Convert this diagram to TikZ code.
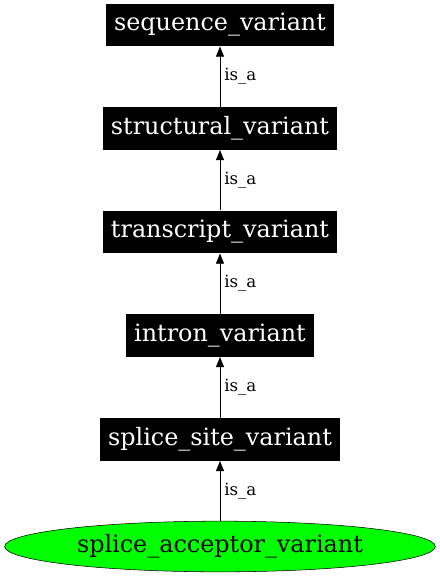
\documentclass[tikz,border=0pt]{standalone}
\usepackage{fontspec}
\setmainfont{DejaVu Serif}
\usetikzlibrary{shapes.geometric,arrows.meta}

\tikzset{
  term/.style={fill=black, text=white, font=\fontsize{17.9}{20}\selectfont,
    inner xsep=6pt, minimum height=32pt},
  leaf/.style={ellipse, draw=black, fill=green, font=\fontsize{17.9}{20}\selectfont,
    minimum width=323pt, minimum height=38pt, inner sep=0pt},
  isa/.style={draw, -{Triangle[length=7.5pt,width=6pt]}},
  lbl/.style={right, font=\fontsize{12.5}{14}\selectfont, inner sep=3pt}
}

\begin{document}
\begin{tikzpicture}[x=0.75pt, y=-0.75pt]

\useasboundingbox (0,0) rectangle (440,576);

\node [term] (seq) at (220,25) {sequence\_variant};
\node [term] (struct) at (220,128.5) {structural\_variant};
\node [term] (trans) at (220,232) {transcript\_variant};
\node [term] (intron) at (220,335.5) {intron\_variant};
\node [term] (site) at (220,439.5) {splice\_site\_variant};
\node [leaf] (acc) at (220,546.5) {splice\_acceptor\_variant};

\draw [isa] (struct) -- node [lbl] {is\_a} (seq);
\draw [isa] (trans) -- node [lbl] {is\_a} (struct);
\draw [isa] (intron) -- node [lbl] {is\_a} (trans);
\draw [isa] (site) -- node [lbl] {is\_a} (intron);
\draw [isa] (acc) -- node [lbl] {is\_a} (site);

\end{tikzpicture}
\end{document}
